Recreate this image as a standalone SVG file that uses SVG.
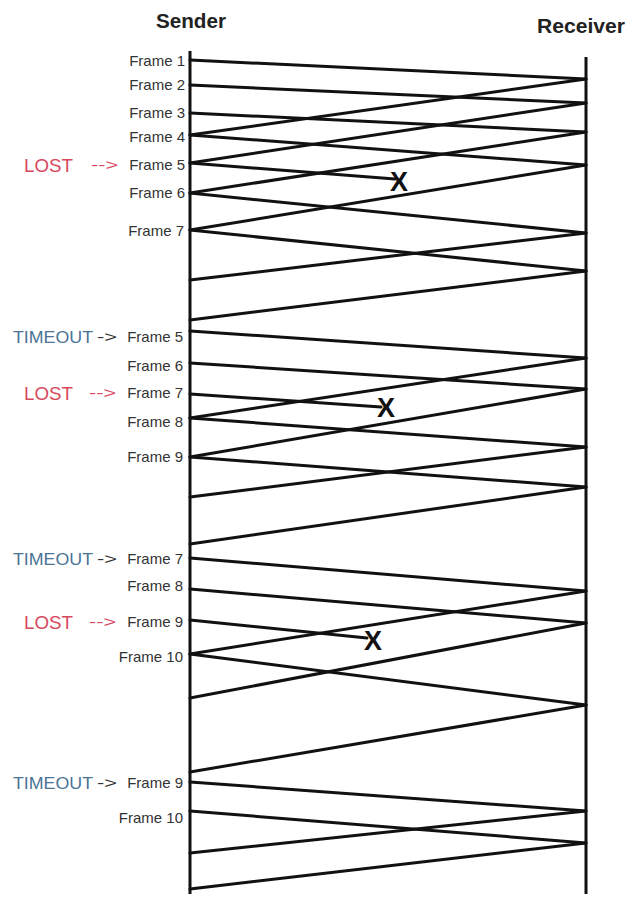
<svg xmlns="http://www.w3.org/2000/svg" width="628" height="897" viewBox="0 0 628 897">
<style>
.life{stroke:#111;stroke-width:3;fill:none}
.msg{stroke:#111;stroke-width:3;fill:none;stroke-linecap:round}
.hdr{font-family:"Liberation Sans",Arial,sans-serif;font-weight:bold;font-size:20px;fill:#222}
.fr{font-family:"Liberation Sans",Arial,sans-serif;font-size:15px;fill:#333;text-anchor:end}
.lost{font-family:"Liberation Sans",Arial,sans-serif;font-size:18px;fill:#d8475e}
.to{font-family:"Liberation Sans",Arial,sans-serif;font-size:17px;fill:#4a7396}
.arr{font-family:"Liberation Sans",Arial,sans-serif;font-size:15px;fill:#333}
.arrR{font-family:"Liberation Sans",Arial,sans-serif;font-size:15px;fill:#d8475e}
.x{font-family:"Liberation Sans",Arial,sans-serif;font-weight:bold;font-size:27px;fill:#111;text-anchor:middle}
</style>
<rect width="628" height="897" fill="#fff"/>
<g id="sender">
<text class="hdr" x="156" y="28" textLength="70" lengthAdjust="spacingAndGlyphs">Sender</text>
<line class="life" x1="190" y1="51" x2="190" y2="894"/>
</g>
<g id="receiver">
<text class="hdr" x="537" y="33" textLength="88" lengthAdjust="spacingAndGlyphs">Receiver</text>
<line class="life" x1="586" y1="57" x2="586" y2="894"/>
</g>
<g id="labels">
<text class="fr" x="185" y="66">Frame 1</text>
<text class="fr" x="185" y="90">Frame 2</text>
<text class="fr" x="185" y="118">Frame 3</text>
<text class="fr" x="185" y="142">Frame 4</text>
<g id="lost1"><text class="lost" x="24" y="172" textLength="49" lengthAdjust="spacingAndGlyphs">LOST</text><text class="arrR" x="91" y="170" textLength="27" lengthAdjust="spacingAndGlyphs">--&gt;</text><text class="fr" x="185" y="170">Frame 5</text></g>
<text class="fr" x="185" y="198">Frame 6</text>
<text class="fr" x="184" y="236">Frame 7</text>
<g id="timeout1"><text class="to" x="13" y="343" textLength="80" lengthAdjust="spacingAndGlyphs">TIMEOUT</text><text class="arr" x="97" y="342" textLength="20" lengthAdjust="spacingAndGlyphs">-&gt;</text><text class="fr" x="183" y="342">Frame 5</text></g>
<text class="fr" x="183" y="371">Frame 6</text>
<g id="lost2"><text class="lost" x="24" y="400" textLength="49" lengthAdjust="spacingAndGlyphs">LOST</text><text class="arrR" x="89" y="398" textLength="27" lengthAdjust="spacingAndGlyphs">--&gt;</text><text class="fr" x="183" y="398">Frame 7</text></g>
<text class="fr" x="183" y="427">Frame 8</text>
<text class="fr" x="183" y="462">Frame 9</text>
<g id="timeout2"><text class="to" x="13" y="565" textLength="80" lengthAdjust="spacingAndGlyphs">TIMEOUT</text><text class="arr" x="97" y="564" textLength="20" lengthAdjust="spacingAndGlyphs">-&gt;</text><text class="fr" x="183" y="564">Frame 7</text></g>
<text class="fr" x="183" y="591">Frame 8</text>
<g id="lost3"><text class="lost" x="24" y="629" textLength="49" lengthAdjust="spacingAndGlyphs">LOST</text><text class="arrR" x="89" y="627" textLength="27" lengthAdjust="spacingAndGlyphs">--&gt;</text><text class="fr" x="183" y="627">Frame 9</text></g>
<text class="fr" x="183" y="662">Frame 10</text>
<g id="timeout3"><text class="to" x="13" y="789" textLength="80" lengthAdjust="spacingAndGlyphs">TIMEOUT</text><text class="arr" x="97" y="788" textLength="20" lengthAdjust="spacingAndGlyphs">-&gt;</text><text class="fr" x="183" y="788">Frame 9</text></g>
<text class="fr" x="183" y="823">Frame 10</text>
</g>
<g id="connectors">
<line class="msg" x1="190" y1="60" x2="586" y2="79"/>
<line class="msg" x1="190" y1="85" x2="586" y2="103"/>
<line class="msg" x1="190" y1="113" x2="586" y2="132"/>
<line class="msg" x1="190" y1="135" x2="586" y2="165"/>
<line class="msg" x1="190" y1="163" x2="395" y2="179"/>
<line class="msg" x1="190" y1="193" x2="586" y2="233"/>
<line class="msg" x1="190" y1="230" x2="586" y2="271"/>
<line class="msg" x1="586" y1="79" x2="190" y2="135"/>
<line class="msg" x1="586" y1="103" x2="190" y2="163"/>
<line class="msg" x1="586" y1="132" x2="190" y2="193"/>
<line class="msg" x1="586" y1="165" x2="190" y2="230"/>
<line class="msg" x1="586" y1="233" x2="190" y2="280"/>
<line class="msg" x1="586" y1="271" x2="190" y2="320"/>
<line class="msg" x1="190" y1="331" x2="586" y2="358"/>
<line class="msg" x1="190" y1="363" x2="586" y2="389"/>
<line class="msg" x1="190" y1="394" x2="381" y2="407"/>
<line class="msg" x1="190" y1="418" x2="586" y2="447"/>
<line class="msg" x1="190" y1="457" x2="586" y2="487"/>
<line class="msg" x1="586" y1="358" x2="190" y2="418"/>
<line class="msg" x1="586" y1="389" x2="190" y2="457"/>
<line class="msg" x1="586" y1="447" x2="190" y2="497"/>
<line class="msg" x1="586" y1="487" x2="190" y2="544"/>
<line class="msg" x1="190" y1="558" x2="586" y2="591"/>
<line class="msg" x1="190" y1="589" x2="586" y2="623"/>
<line class="msg" x1="190" y1="620" x2="367" y2="638"/>
<line class="msg" x1="190" y1="654" x2="586" y2="705"/>
<line class="msg" x1="586" y1="591" x2="190" y2="654"/>
<line class="msg" x1="586" y1="623" x2="190" y2="698"/>
<line class="msg" x1="586" y1="705" x2="190" y2="772"/>
<line class="msg" x1="190" y1="782" x2="586" y2="811"/>
<line class="msg" x1="190" y1="811" x2="586" y2="843"/>
<line class="msg" x1="586" y1="811" x2="190" y2="853"/>
<line class="msg" x1="586" y1="843" x2="190" y2="889"/>
</g>
<g id="lost-marks">
<text class="x" x="399" y="191">X</text>
<text class="x" x="386" y="417">X</text>
<text class="x" x="373" y="650">X</text>
</g>
</svg>
